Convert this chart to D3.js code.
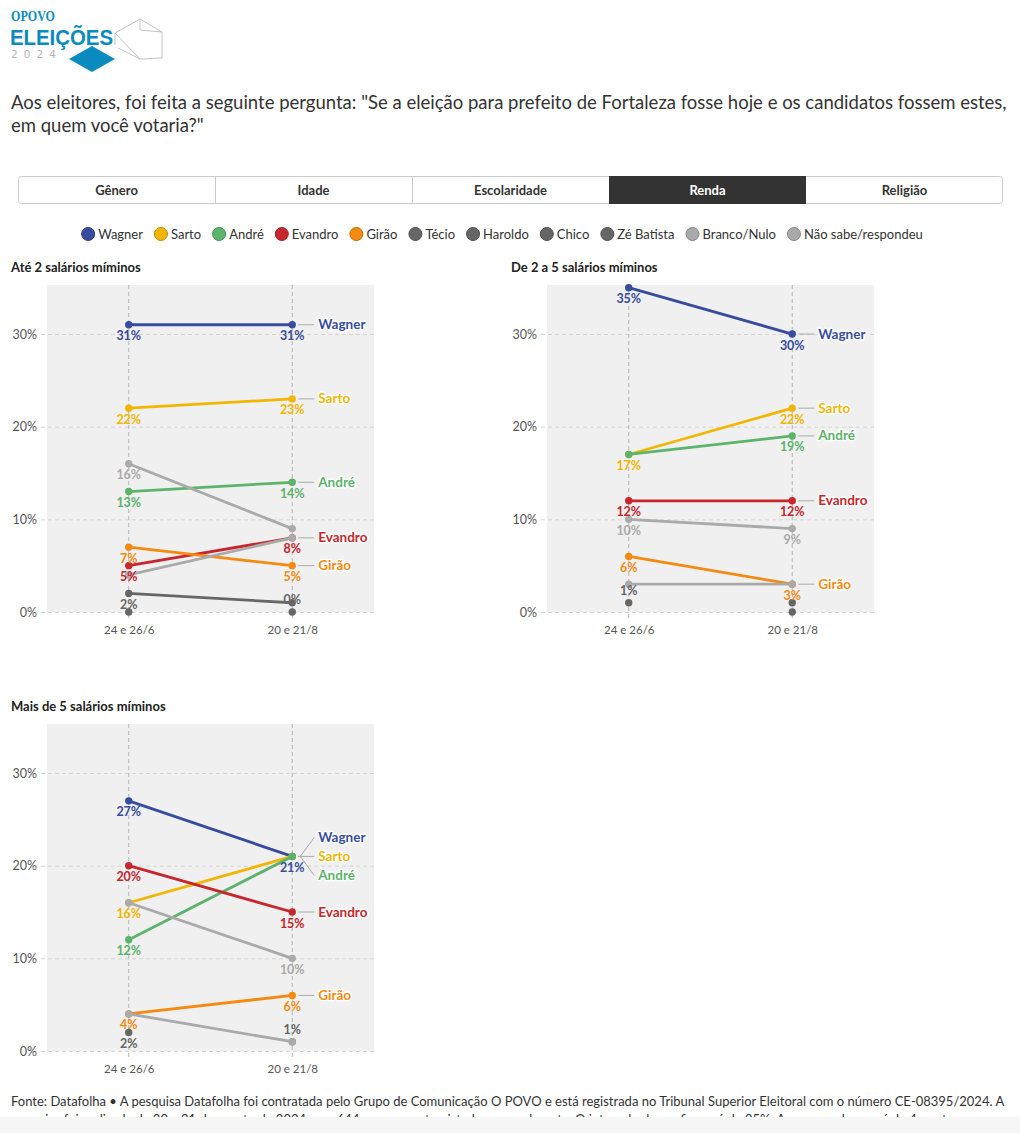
<!DOCTYPE html>
<html><head><meta charset="utf-8">
<script src="https://cdn.jsdelivr.net/npm/d3@7"></script>
<style>
html,body{margin:0;padding:0;background:#fff;}
svg{display:block;font-family:"Source Sans Pro","Lato",sans-serif;}
</style></head>
<body>
<svg id="chart" width="1020" height="1133"></svg>
<script>
// ---------- DATA ----------
const dates = ["24 e 26/6", "20 e 21/8"];
const candidates = ["Wagner","Sarto","André","Evandro","Girão","Técio","Haroldo","Chico","Zé Batista","Branco/Nulo","Não sabe/respondeu"];
const candidateColors = ["#374c9e","#f2b600","#5cb36c","#c7262d","#f6890f","#666666","#666666","#666666","#666666","#aaaaaa","#aaaaaa"];
const tabLabels = ["Gênero","Idade","Escolaridade","Renda","Religião"];
const activeTab = "Renda";
const panelTitles = ["Até 2 salários míminos","De 2 a 5 salários míminos","Mais de 5 salários míminos"];
const yTicks = [0,10,20,30];

// values per panel, per survey date, in candidate order (null = not shown)
const ate2Jun  = [31,22,13,5,7,2,0,null,null,16,4];
const ate2Ago  = [31,23,14,8,5,1,null,0,null,9,8];
const de2a5Jun = [35,17,17,12,6,1,null,null,null,10,3];
const de2a5Ago = [30,22,19,12,3,null,1,0,null,9,3];
const mais5Jun = [27,16,12,20,4,2,null,null,null,16,4];
const mais5Ago = [21,21,21,15,6,null,1,null,null,10,1];

// value-label placement (b = below, a = above, "" = hidden)
const ate2JunLbl  = ["b","b","b","b","b","b","","","","b",""];
const ate2AgoLbl  = ["b","b","b","b","b","","","a","","",""];
const de2a5JunLbl = ["b","b","","b","b","a","","","","b",""];
const de2a5AgoLbl = ["b","b","b","b","b","","","","","b",""];
const mais5JunLbl = ["b","b","b","b","b","b","","","","",""];
const mais5AgoLbl = ["b","","","b","b","","a","","","b",""];

const title1 = "Aos eleitores, foi feita a seguinte pergunta: \"Se a eleição para prefeito de Fortaleza fosse hoje e os candidatos fossem estes,";
const title2 = "em quem você votaria?\"";
const foot1 = "Fonte: Datafolha • A pesquisa Datafolha foi contratada pelo Grupo de Comunicação O POVO e está registrada no Tribunal Superior Eleitoral com o número CE-08395/2024. A";
const foot2 = "pesquisa foi realizada de 20 a 21 de agosto de 2024 com 644 pessoas entrevistadas pessoalmente. O intervalo de confiança é de 95%. A margem de erro é de 4 pontos";

// ---------- DRAW ----------
const svg = d3.select("#chart");
const FONT = '"Source Sans Pro","Lato",sans-serif';

// Logo
const logo = svg.append("g");
logo.append("text").attr("x",11).attr("y",21).text("OPOVO")
  .attr("font-family","Liberation Serif, serif").attr("font-weight","bold").attr("font-size",14)
  .attr("fill","#0a8bbf").attr("textLength",44).attr("lengthAdjust","spacingAndGlyphs");
logo.append("text").attr("x",10).attr("y",45).text("ELEIÇÕES")
  .attr("font-family","Liberation Sans Narrow, Liberation Sans, sans-serif").attr("font-weight","bold").attr("font-size",22)
  .attr("fill","#0a8bbf").attr("textLength",103).attr("lengthAdjust","spacingAndGlyphs");
logo.append("text").attr("x",11).attr("y",58).text("2024")
  .attr("font-family","DejaVu Sans, sans-serif").attr("font-size",10.5)
  .attr("fill","#b5b5b5").attr("textLength",45);
logo.append("polygon").attr("points","69,59 92,46 115,59 92,72").attr("fill","#0a8bbf");
logo.append("path").attr("d","M115,33 L140,19 L162,32 L162,58 L140,59 L115,33 L115,45 M140,59 L118,48 M140,19 L140,30 L162,32")
  .attr("fill","none").attr("stroke","#c4c4c4").attr("stroke-width",1);

// Title
svg.append("text").attr("x",11).attr("y",109).attr("font-size",18.5).attr("fill","#333").text(title1);
svg.append("text").attr("x",11).attr("y",132).attr("font-size",18.5).attr("fill","#333").text(title2);

// Tabs
const tabX = d3.scaleBand().domain(tabLabels).range([18,1003]);
const tabs = svg.append("g");
tabs.append("rect").attr("x",18.5).attr("y",176.5).attr("width",984).attr("height",27).attr("rx",3)
  .attr("fill","#fff").attr("stroke","#ccc");
tabLabels.forEach((t,i)=>{
  const x0 = tabX(t);
  if (t===activeTab) {
    tabs.append("rect").attr("x",x0).attr("y",176).attr("width",tabX.bandwidth()).attr("height",28).attr("fill","#333");
  } else if (i>0 && tabLabels[i-1]!==activeTab) {
    tabs.append("line").attr("x1",x0+0.5).attr("x2",x0+0.5).attr("y1",177).attr("y2",203).attr("stroke","#ccc");
  }
  tabs.append("text").attr("x",x0+tabX.bandwidth()/2).attr("y",194.5).attr("text-anchor","middle")
    .attr("font-size",13).attr("font-weight","bold").attr("fill",t===activeTab?"#fff":"#333").text(t);
});

// Legend
const leg = svg.append("g");
let lx = 0;
candidates.forEach((c,i)=>{
  const g = leg.append("g");
  g.append("circle").attr("cx",7).attr("cy",0).attr("r",6.5).attr("fill",candidateColors[i])
    .attr("stroke",d3.color(candidateColors[i]).darker(0.7)).attr("stroke-width",1);
  const t = g.append("text").attr("x",17).attr("y",4.5).attr("font-size",13).attr("fill","#333").text(c);
  const w = 17 + t.node().getComputedTextLength();
  g.attr("transform",`translate(${lx},234)`);
  lx += w + 11;
});
const legW = lx - 11;
leg.attr("transform",`translate(${502 - legW/2},0)`);

// Panels
const panels = [
  {title:panelTitles[0], jun:ate2Jun, ago:ate2Ago, lj:ate2JunLbl, la:ate2AgoLbl, x:11, y:0},
  {title:panelTitles[1], jun:de2a5Jun, ago:de2a5Ago, lj:de2a5JunLbl, la:de2a5AgoLbl, x:511, y:0},
  {title:panelTitles[2], jun:mais5Jun, ago:mais5Ago, lj:mais5JunLbl, la:mais5AgoLbl, x:11, y:439}
];

panels.forEach(p=>{
  const g = svg.append("g").attr("transform",`translate(${p.x},${p.y})`);
  const L = 36, R = 363, T = 285, B = 612;
  const x = d3.scalePoint().domain(dates).range([L,R]).padding(0.5);
  const y = d3.scaleLinear().domain([0,35]).range([B,287.7]);

  g.append("text").attr("x",0).attr("y",272).attr("font-size",13).attr("font-weight","bold").attr("fill","#222").text(p.title);
  g.append("rect").attr("x",L).attr("y",T).attr("width",R-L).attr("height",B-T).attr("fill","#f0f0f0");

  // y axis
  const ya = g.append("g").attr("transform",`translate(${L},0)`)
    .call(d3.axisLeft(y).tickValues(yTicks).tickSize(-(R-L)).tickFormat(d=>d+"%"));
  ya.select(".domain").remove();
  ya.selectAll(".tick line").attr("stroke","#d4d4d4").attr("stroke-dasharray","4,3").attr("x1",-6);
  ya.selectAll(".tick text").attr("x",-10).attr("font-size",12.5).attr("fill","#555").attr("font-family",FONT);

  // x axis
  const xa = g.append("g").attr("transform",`translate(0,${B})`)
    .call(d3.axisBottom(x).tickSize(8));
  xa.select(".domain").remove();
  xa.selectAll(".tick line").attr("stroke","none");
  xa.selectAll(".tick text").attr("y",14).attr("font-size",11.5).attr("fill","#555").attr("font-family",FONT);
  dates.forEach(d=>{
    g.append("line").attr("x1",x(d)).attr("x2",x(d)).attr("y1",T).attr("y2",B+9)
      .attr("stroke","#b5b5b5").attr("stroke-dasharray","4,3");
  });

  // lines + points
  candidates.forEach((c,i)=>{
    const col = candidateColors[i];
    const v = [p.jun[i], p.ago[i]];
    if (v[0]!=null && v[1]!=null) {
      g.append("path").attr("d", d3.line()([[x(dates[0]),y(v[0])],[x(dates[1]),y(v[1])]]))
        .attr("stroke",col).attr("stroke-width",2.8).attr("fill","none");
    }
    v.forEach((val,k)=>{
      if (val==null) return;
      g.append("circle").attr("cx",x(dates[k])).attr("cy",y(val)).attr("r",3.7).attr("fill",col);
    });
  });
  // value labels
  candidates.forEach((c,i)=>{
    const col = candidateColors[i];
    const v = [p.jun[i], p.ago[i]];
    const pl = [p.lj[i], p.la[i]];
    v.forEach((val,k)=>{
      if (val==null || !pl[k]) return;
      g.append("text").attr("x",x(dates[k])).attr("y",y(val) + (pl[k]==="b"?15.5:-8))
        .attr("text-anchor","middle").attr("font-size",12.5).attr("font-weight","bold")
        .attr("fill",col).text(val+"%");
    });
  });
  // name labels (dodged)
  const named = [];
  for (let i=0;i<5;i++) if (p.ago[i]!=null) named.push({i, py:y(p.ago[i]), ly:y(p.ago[i])});
  named.sort((a,b)=>a.py-b.py || a.i-b.i);
  const gap = 19;
  let clusters = named.map(n=>({items:[n], c:n.py}));
  let changed = true;
  const layout = cl => { const h=(cl.items.length-1)*gap; cl.items.forEach((n,k)=>n.ly=cl.c-h/2+k*gap); };
  clusters.forEach(layout);
  while (changed) {
    changed = false;
    for (let k=0;k<clusters.length-1;k++) {
      const a=clusters[k], b=clusters[k+1];
      if (b.items[0].ly - a.items[a.items.length-1].ly < gap) {
        const all=a.items.concat(b.items);
        const c = d3.mean(all,n=>n.py);
        clusters.splice(k,2,{items:all,c}); layout(clusters[k]); changed=true; break;
      }
    }
  }
  const px = x(dates[1]);
  named.forEach(n=>{
    g.append("path").attr("d",`M${px+6},${n.py} L${px+(n.ly===n.py?6:8)},${n.py} L${px+22},${n.ly}`)
      .attr("stroke","#aaa").attr("fill","none").attr("stroke-width",1);
    g.append("text").attr("x",px+26).attr("y",n.ly+4.5).attr("font-size",13.5).attr("font-weight","bold")
      .attr("fill",candidateColors[n.i]).attr("stroke","#fff").attr("stroke-width",3)
      .attr("paint-order","stroke").attr("stroke-linejoin","round").text(candidates[n.i]);
  });
});

// Footer
svg.append("text").attr("x",11).attr("y",1106).attr("font-size",13).attr("fill","#333").text(foot1);
svg.append("text").attr("x",11).attr("y",1124).attr("font-size",13).attr("fill","#333").text(foot2);
svg.append("rect").attr("x",0).attr("y",1117).attr("width",1020).attr("height",16).attr("fill","#f6f6f6");
</script>
</body></html>
